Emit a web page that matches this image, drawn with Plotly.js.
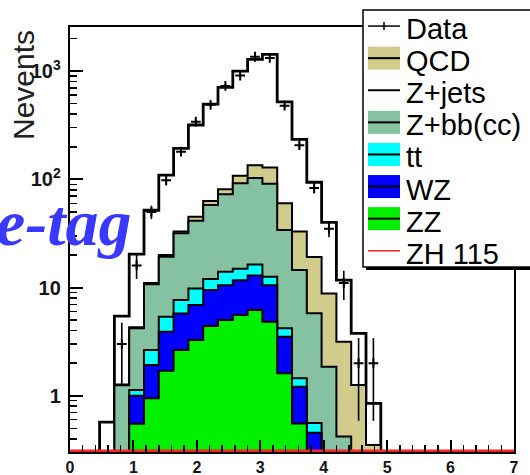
<!DOCTYPE html>
<html>
<head>
<meta charset="utf-8">
<script src="https://cdn.plot.ly/plotly-3.0.1.min.js"></script>
<style>
  html, body { margin: 0; padding: 0; background: #fff; }
  #chart { width: 530px; height: 475px; }
</style>
</head>
<body>
<div id="chart"></div>
<script>
// Histogram binning: 30 equal bins spanning 0..7
const binLow = 0;
const binHigh = 7;
const nBins = 30;

// Per-bin contents, bin 0 first
const dataCounts = [0, 0, 0, 3, 16, 50, 98, 180, 341, 488, 730, 910, 1358, 1325, 480, 207, 83, 35, 11, 2, 2, 0, 0, 0, 0, 0, 0, 0, 0, 0];
const zzEvents   = [0, 0, 0, 0.05, 0.55, 0.95, 1.7, 2.64, 3.27, 4.4, 5.0, 5.57, 6.2, 4.83, 1.61, 0.555, 0.2, 0, 0, 0, 0, 0, 0, 0, 0, 0, 0, 0, 0, 0];
const wzEvents   = [0, 0, 0, 0, 0.45, 0.97, 2.2, 3.13, 3.63, 5.1, 5.5, 6.13, 6.7, 5.67, 1.89, 0.655, 0.255, 0, 0, 0, 0, 0, 0, 0, 0, 0, 0, 0, 0, 0];
const ttEvents   = [0, 0, 0, 0, 0.13, 0.72, 1.47, 1.89, 2.9, 2.5, 3.5, 3.2, 3.4, 2.1, 0.7, 0.24, 0.105, 0, 0, 0, 0, 0, 0, 0, 0, 0, 0, 0, 0, 0];
const zbbEvents  = [0, 0, 0, 1.2, 3.07, 8.06, 13.93, 24.04, 31.7, 46.0, 59.0, 77.1, 86.7, 78.4, 29.8, 13.05, 5.24, 1.85, 0.42, 0, 0, 0, 0, 0, 0, 0, 0, 0, 0, 0];
const qcdEvents  = [0, 0, 0, 0.02, 0.1, 0.3, 0.7, 1.3, 3.5, 5, 8, 16, 32, 38, 26, 18.5, 13.4, 6.95, 2.73, 1.26, 0.35, 0, 0, 0, 0, 0, 0, 0, 0, 0];
const zjetsEvents = [0, 0, 0.57, 4.18, 16.1, 40.8, 89.6, 160.5, 273, 433, 627, 894, 1150, 1301, 461, 201, 74.8, 31.2, 8.55, 2.51, 0.5, 0, 0, 0, 0, 0, 0, 0, 0, 0];
const zhEvents   = [0, 0, 0, 0, 0, 0, 0, 0, 0.01, 0.02, 0.04, 0.06, 0.09, 0.1, 0.06, 0.02, 0.01, 0, 0, 0, 0, 0, 0, 0, 0, 0, 0, 0, 0, 0];

// Legend labels
const legendNames = ['Data', 'QCD', 'Z+jets', 'Z+bb(cc)', 'tt', 'WZ', 'ZZ', 'ZH 115'];

// Styling
const colors = {
  qcd: '#d2cc8c',
  zjets: '#ffffff',
  zbb: '#84c2a2',
  tt: '#00ffff',
  wz: '#0000ff',
  zz: '#00f000',
  zh: '#ff2020'
};
const yRangeLog = [-0.52, 3.408];
const yFloor = Math.pow(10, yRangeLog[0]);
const fillFloor = 0.01;

const binWidth = (binHigh - binLow) / nBins;
const edges = Array.from({ length: nBins + 1 }, (_, i) => binLow + i * binWidth);
const centers = Array.from({ length: nBins }, (_, i) => binLow + (i + 0.5) * binWidth);

// Stack components bottom-up and accumulate
function addArrays(a, b) { return a.map((v, i) => v + b[i]); }
const cumZZ = zzEvents.slice();
const cumWZ = addArrays(cumZZ, wzEvents);
const cumTT = addArrays(cumWZ, ttEvents);
const cumZbb = addArrays(cumTT, zbbEvents);
const cumQCD = addArrays(cumZbb, qcdEvents);
const cumTotal = addArrays(cumQCD, zjetsEvents);

// Closed step outline of a histogram, used as a filled polygon
function stepPolygon(vals, floor) {
  let a = vals.findIndex(v => v > 0);
  let b = vals.length - 1;
  while (b > a && !(vals[b] > 0)) b--;
  const xs = [edges[a]];
  const ys = [floor];
  for (let i = a; i <= b; i++) {
    const v = Math.max(vals[i], floor);
    xs.push(edges[i], edges[i + 1]);
    ys.push(v, v);
  }
  xs.push(edges[b + 1]);
  ys.push(floor);
  return { xs, ys };
}

function stackTrace(vals, fillColor, lineWidth) {
  const p = stepPolygon(vals, fillFloor);
  return {
    type: 'scatter', mode: 'lines', x: p.xs, y: p.ys,
    fill: 'toself', fillcolor: fillColor,
    line: { color: '#000', width: lineWidth },
    hoverinfo: 'skip'
  };
}

const traces = [
  stackTrace(cumTotal, colors.zjets, 2.8),
  stackTrace(cumQCD, colors.qcd, 2),
  stackTrace(cumZbb, colors.zbb, 2),
  stackTrace(cumTT, colors.tt, 2),
  stackTrace(cumWZ, colors.wz, 2),
  stackTrace(cumZZ, colors.zz, 2)
];

// Signal histogram, drawn clamped to the axis minimum
const zhX = [];
const zhY = [];
for (let i = 0; i < nBins; i++) {
  const v = Math.max(zhEvents[i], yFloor);
  zhX.push(edges[i], edges[i + 1]);
  zhY.push(v, v);
}
traces.push({
  type: 'scatter', mode: 'lines', x: zhX, y: zhY,
  line: { color: colors.zh, width: 5 }, hoverinfo: 'skip'
});

// Data points with Poisson errors
const dX = [], dY = [], dErr = [];
dataCounts.forEach((n, i) => {
  if (n > 0) { dX.push(centers[i]); dY.push(n); dErr.push(Math.sqrt(n)); }
});
traces.push({
  type: 'scatter', mode: 'markers', x: dX, y: dY,
  marker: { symbol: 'cross-thin', size: 7, color: '#000', line: { color: '#000', width: 2 } },
  error_y: { type: 'data', array: dErr, visible: true, color: '#000', thickness: 1.6, width: 0 },
  hoverinfo: 'skip'
});

// Pixel helpers for the legend block and free text
const M = { l: 70, r: 16, t: 27, b: 23 };
const W = 530, H = 475;
const plotW = W - M.l - M.r, plotH = H - M.t - M.b;
const px = x => (x - M.l) / plotW;
const py = y => (H - M.b - y) / plotH;

const shapes = [];
const annotations = [];

// Legend box with shadow
shapes.push({ type: 'rect', xref: 'paper', yref: 'paper', x0: px(366), x1: px(550), y0: py(13), y1: py(270),
  fillcolor: '#000', line: { width: 0 }, layer: 'above' });
shapes.push({ type: 'rect', xref: 'paper', yref: 'paper', x0: px(363), x1: px(547), y0: py(10), y1: py(267),
  fillcolor: '#fff', line: { color: '#000', width: 1.5 }, layer: 'above' });

const legendFill = [null, colors.qcd, null, colors.zbb, colors.tt, colors.wz, colors.zz, null];
const rowTop = 10, rowH = 32.1;
const symX0 = 368, symX1 = 400;
legendNames.forEach((name, i) => {
  const yc = rowTop + rowH * (i + 0.5);
  if (legendFill[i]) {
    shapes.push({ type: 'rect', xref: 'paper', yref: 'paper', x0: px(symX0), x1: px(symX1),
      y0: py(yc - 11.5), y1: py(yc + 11.5), fillcolor: legendFill[i], line: { width: 0 }, layer: 'above' });
  }
  const lineColor = (name === 'ZH 115') ? colors.zh : '#000';
  const lineW = (name === 'ZH 115' || name === 'Data') ? 1.5 : 2;
  shapes.push({ type: 'line', xref: 'paper', yref: 'paper', x0: px(symX0), x1: px(symX1),
    y0: py(yc), y1: py(yc), line: { color: lineColor, width: lineW }, layer: 'above' });
  if (name === 'Data') {
    shapes.push({ type: 'line', xref: 'paper', yref: 'paper', x0: px(384), x1: px(384),
      y0: py(yc - 4), y1: py(yc + 4), line: { color: '#000', width: 1.5 }, layer: 'above' });
  }
  annotations.push({ xref: 'paper', yref: 'paper', x: px(404), y: py(yc + 3), xanchor: 'left', yanchor: 'middle',
    text: name, showarrow: false,
    font: { family: 'Liberation Sans, Arial, Helvetica, sans-serif', size: 29, color: '#000' } });
});

// Axis title on the left, aligned to the top end
annotations.push({ xref: 'paper', yref: 'paper', x: px(24), y: py(28), xanchor: 'center', yanchor: 'top',
  textangle: -90, text: 'Nevents', showarrow: false,
  font: { family: 'Liberation Sans, Arial, Helvetica, sans-serif', size: 30, color: '#222' } });

// Channel tag
annotations.push({ xref: 'paper', yref: 'paper', x: px(-6), y: py(222), xanchor: 'left', yanchor: 'middle',
  text: 'e-tag', showarrow: false,
  font: { family: 'Liberation Serif, Times New Roman, serif', size: 66, weight: 'bold', style: 'italic', color: '#3838ff' } });

const tickFont = { family: 'Liberation Sans, Arial, Helvetica, sans-serif', size: 16, weight: 'bold', color: '#151515' };

const layout = {
  width: W, height: H,
  margin: M,
  paper_bgcolor: '#fff', plot_bgcolor: '#fff',
  showlegend: false,
  xaxis: {
    range: [binLow, binHigh], tickmode: 'linear', tick0: 0, dtick: 1,
    ticks: 'inside', ticklen: 12, tickwidth: 2, tickcolor: '#000',
    showline: true, linewidth: 2, linecolor: '#000', mirror: true,
    showgrid: false, zeroline: false, tickfont: tickFont,
    minor: { dtick: 0.2, ticks: 'inside', ticklen: 7, tickwidth: 1.5, tickcolor: '#000', showgrid: false }
  },
  yaxis: {
    type: 'log', range: yRangeLog, dtick: 1, exponentformat: 'power',
    ticks: 'inside', ticklen: 13, tickwidth: 2, tickcolor: '#000',
    showline: true, linewidth: 2, linecolor: '#000', mirror: true,
    showgrid: false, zeroline: false, tickfont: tickFont, ticklabelstandoff: 4,
    minor: { dtick: 'D1', ticks: 'inside', ticklen: 7, tickwidth: 1.5, tickcolor: '#000', showgrid: false }
  },
  shapes: shapes,
  annotations: annotations
};

Plotly.newPlot('chart', traces, layout, { staticPlot: true, displayModeBar: false });
</script>
</body>
</html>
